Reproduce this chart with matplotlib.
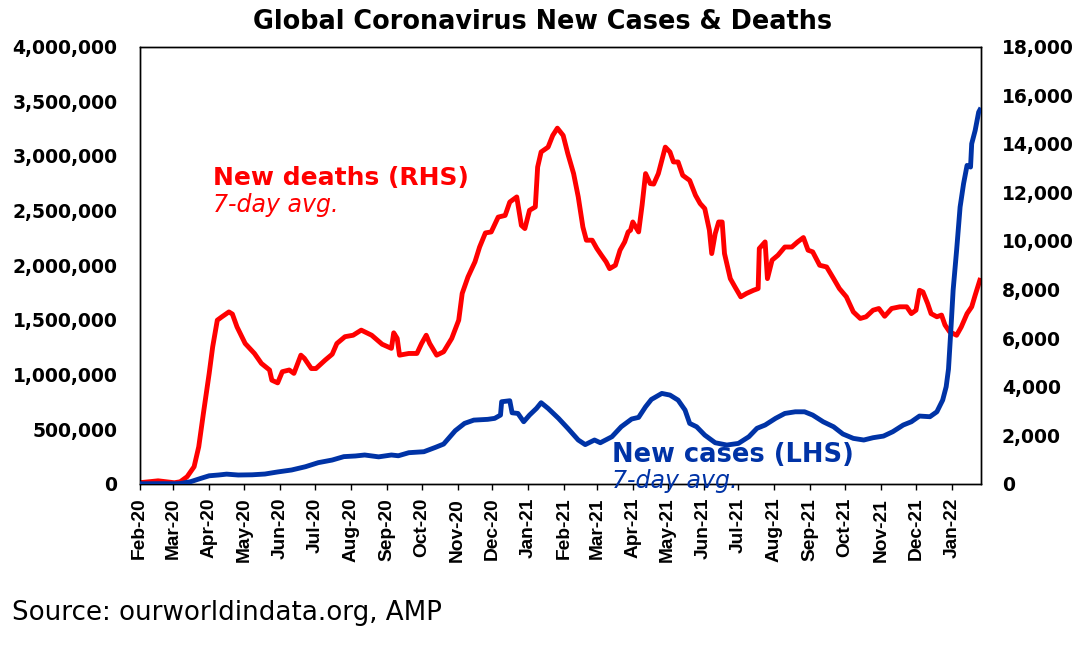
import matplotlib
matplotlib.use("Agg")
import matplotlib.pyplot as plt
import matplotlib.ticker as mticker
import numpy as np

plt.rcParams['font.family'] = ['DejaVu Sans']

# ---- data ----
death_dates = ["2020-02-01","2020-02-17","2020-03-02","2020-03-07","2020-03-13","2020-03-19","2020-03-23",
"2020-03-27","2020-04-01","2020-04-04","2020-04-08","2020-04-12","2020-04-18","2020-04-21","2020-04-25",
"2020-05-02","2020-05-10","2020-05-16","2020-05-23","2020-05-25","2020-05-30","2020-06-03","2020-06-09",
"2020-06-13","2020-06-19","2020-06-22","2020-06-28","2020-07-02","2020-07-10","2020-07-16","2020-07-20",
"2020-07-27","2020-08-03","2020-08-10","2020-08-19","2020-08-28","2020-09-05","2020-09-07","2020-09-10",
"2020-09-12","2020-09-20","2020-09-27","2020-10-01","2020-10-05","2020-10-08","2020-10-14","2020-10-20",
"2020-10-27","2020-11-02","2020-11-05","2020-11-10","2020-11-16","2020-11-20","2020-11-25","2020-11-30",
"2020-12-06","2020-12-12","2020-12-16","2020-12-22","2020-12-26","2020-12-29","2021-01-02","2021-01-07",
"2021-01-09","2021-01-12","2021-01-18","2021-01-22","2021-01-26","2021-01-31","2021-02-04","2021-02-09",
"2021-02-13","2021-02-17","2021-02-20","2021-02-25","2021-03-01","2021-03-05","2021-03-09","2021-03-12",
"2021-03-17","2021-03-21","2021-03-25","2021-03-28","2021-03-30","2021-04-01","2021-04-06","2021-04-09",
"2021-04-12","2021-04-16","2021-04-19","2021-04-23","2021-04-26","2021-04-29","2021-05-03","2021-05-06",
"2021-05-10","2021-05-14","2021-05-20","2021-05-25","2021-05-29","2021-06-02","2021-06-06","2021-06-08",
"2021-06-11","2021-06-14","2021-06-17","2021-06-19","2021-06-24","2021-06-28","2021-07-03","2021-07-08",
"2021-07-14","2021-07-18","2021-07-19","2021-07-24","2021-07-26","2021-07-30","2021-08-04","2021-08-10",
"2021-08-16","2021-08-21","2021-08-26","2021-08-30","2021-09-03","2021-09-09","2021-09-15","2021-09-21",
"2021-09-26","2021-10-02","2021-10-08","2021-10-14","2021-10-19","2021-10-25","2021-10-30","2021-11-04",
"2021-11-10","2021-11-17","2021-11-23","2021-11-27","2021-12-01","2021-12-04","2021-12-07","2021-12-11",
"2021-12-14","2021-12-19","2021-12-23","2021-12-26","2021-12-30","2022-01-05","2022-01-09","2022-01-14",
"2022-01-18","2022-01-21","2022-01-25"]
deaths = [50,130,50,90,300,710,1530,
2900,4550,5640,6740,6880,7080,6990,6460,
5780,5370,4960,4690,4270,4160,4620,4690,
4550,5300,5170,4750,4750,5100,5340,5780,
6060,6120,6330,6120,5750,5580,6220,5990,
5300,5370,5370,5780,6120,5780,5300,5440,
5990,6740,7840,8520,9140,9750,10330,10370,
10980,11050,11600,11810,10640,10510,11260,11400,
13040,13660,13860,14340,14640,14340,13590,12770,
11810,10570,10030,10030,9690,9410,9140,8860,
9000,9620,9960,10370,10440,10780,10370,11470,
12770,12360,12340,12770,13320,13860,13660,13250,
13250,12700,12490,11880,11540,11330,10440,9480,
10300,10780,10780,9480,8450,8110,7700,7840,
7970,8040,9690,9960,8450,9210,9410,9750,
9750,9960,10140,9620,9550,9000,8930,8450,
8040,7700,7080,6810,6880,7150,7220,6900,
7220,7290,7290,7010,7150,7970,7900,7430,
7010,6880,6950,6540,6260,6120,6460,7010,
7290,7770,8380]

case_dates = ["2020-02-01","2020-02-21","2020-03-02","2020-03-07","2020-03-16","2020-03-25","2020-04-01",
"2020-04-09","2020-04-16","2020-04-26","2020-05-08","2020-05-19","2020-05-30","2020-06-11","2020-06-23",
"2020-07-04","2020-07-16","2020-07-26","2020-08-05","2020-08-13","2020-08-25","2020-09-05","2020-09-11",
"2020-09-20","2020-10-03","2020-10-13","2020-10-20","2020-10-30","2020-11-07","2020-11-15","2020-11-27",
"2020-12-03","2020-12-08","2020-12-09","2020-12-16","2020-12-18","2020-12-23","2020-12-28","2021-01-02",
"2021-01-08","2021-01-12","2021-01-18","2021-01-27","2021-02-04","2021-02-13","2021-02-19","2021-02-27",
"2021-03-04","2021-03-14","2021-03-22","2021-03-31","2021-04-06","2021-04-12","2021-04-17","2021-04-26",
"2021-05-03","2021-05-10","2021-05-16","2021-05-20","2021-05-26","2021-06-02","2021-06-11","2021-06-21",
"2021-07-01","2021-07-10","2021-07-17","2021-07-24","2021-08-02","2021-08-10","2021-08-19","2021-08-27",
"2021-09-03","2021-09-12","2021-09-21","2021-09-29","2021-10-08","2021-10-17","2021-10-25","2021-11-03",
"2021-11-11","2021-11-20","2021-11-27","2021-12-04","2021-12-13","2021-12-19","2021-12-24","2021-12-27",
"2021-12-29","2021-12-31","2022-01-02","2022-01-05","2022-01-08","2022-01-11","2022-01-14","2022-01-17",
"2022-01-18","2022-01-21","2022-01-24","2022-01-25"]
cases = [2000,3000,2000,4000,21000,52000,75000,
82000,90000,82000,84000,91000,110000,128000,158000,
195000,219000,250000,256000,265000,248000,265000,258000,
286000,295000,335000,365000,487000,554000,584000,591000,
600000,630000,752000,761000,651000,645000,569000,630000,
691000,743000,691000,600000,509000,402000,360000,402000,
377000,432000,523000,594000,609000,706000,773000,828000,
813000,767000,676000,554000,523000,447000,377000,356000,
371000,432000,509000,539000,600000,645000,660000,660000,
630000,569000,523000,457000,417000,402000,423000,438000,
478000,539000,569000,621000,615000,660000,767000,889000,
1050000,1400000,1772000,2137000,2532000,2746000,2913000,2898000,
3111000,3233000,3400000,3420000]

month_ticks = ["Feb-20","Mar-20","Apr-20","May-20","Jun-20","Jul-20","Aug-20","Sep-20","Oct-20",
"Nov-20","Dec-20","Jan-21","Feb-21","Mar-21","Apr-21","May-21","Jun-21","Jul-21","Aug-21",
"Sep-21","Oct-21","Nov-21","Dec-21","Jan-22"]

RED = "#FF0000"
BLUE = "#0033A6"

fig = plt.figure(figsize=(10.86, 6.55), dpi=100)
ax = fig.add_axes([0.1285, 0.2611, 0.7748, 0.6679])
ax2 = ax.twinx()

dd = np.array(death_dates, dtype="datetime64[D]")
cd = np.array(case_dates, dtype="datetime64[D]")

ax.plot(cd, cases, color=BLUE, lw=3.5, solid_joinstyle='round', zorder=3)
ax2.plot(dd, deaths, color=RED, lw=3.5, solid_joinstyle='round', zorder=2)
ax.set_zorder(ax2.get_zorder() + 1)
ax.patch.set_visible(False)

ax.set_xlim(np.datetime64("2020-02-01"), np.datetime64("2022-01-26"))
ax.set_ylim(0, 4000000)
ax2.set_ylim(0, 18000)
ax.yaxis.set_major_locator(mticker.MultipleLocator(500000))
ax2.yaxis.set_major_locator(mticker.MultipleLocator(2000))
ax.yaxis.set_major_formatter(mticker.FuncFormatter(lambda v, p: f"{int(v):,}"))
ax2.yaxis.set_major_formatter(mticker.FuncFormatter(lambda v, p: f"{int(v):,}"))

tick_pos = np.arange(np.datetime64("2020-02"), np.datetime64("2022-02"), np.timedelta64(1, 'M')).astype("datetime64[D]")
ax.set_xticks(tick_pos)
ax.set_xticklabels(month_ticks, rotation=90, fontsize=13.8, fontweight='bold',
                   family=['Liberation Sans', 'DejaVu Sans'])

for a in (ax, ax2):
    for s in a.spines.values():
        s.set_linewidth(1.0)
        s.set_color('black')
ax.tick_params(axis='y', length=0, pad=16, labelsize=13.5)
ax2.tick_params(axis='y', length=0, pad=15, labelsize=13.5)
ax.tick_params(axis='x', length=4, width=1, direction='out', pad=6)
for lab in ax.get_yticklabels() + ax2.get_yticklabels():
    lab.set_fontweight('bold')

fig.text(0.5, 0.966, "Global Coronavirus New Cases & Deaths", ha='center', va='center',
         fontsize=18.4, fontweight='bold')

ax.text(0.087, 0.699, "New deaths (RHS)", transform=ax.transAxes, color=RED,
        fontsize=18, fontweight='bold', ha='left', va='center')
ax.text(0.087, 0.638, "7-day avg.", transform=ax.transAxes, color=RED,
        fontsize=17, fontstyle='italic', ha='left', va='center')
ax.text(0.562, 0.066, "New cases (LHS)", transform=ax.transAxes, color=BLUE,
        fontsize=18.5, fontweight='bold', ha='left', va='center')
ax.text(0.562, 0.007, "7-day avg.", transform=ax.transAxes, color=BLUE,
        fontsize=17, fontstyle='italic', ha='left', va='center')

fig.text(0.011, 0.064, "Source: ourworldindata.org, AMP", ha='left', va='center', fontsize=18.8)

fig.savefig("out.png", dpi=100)
